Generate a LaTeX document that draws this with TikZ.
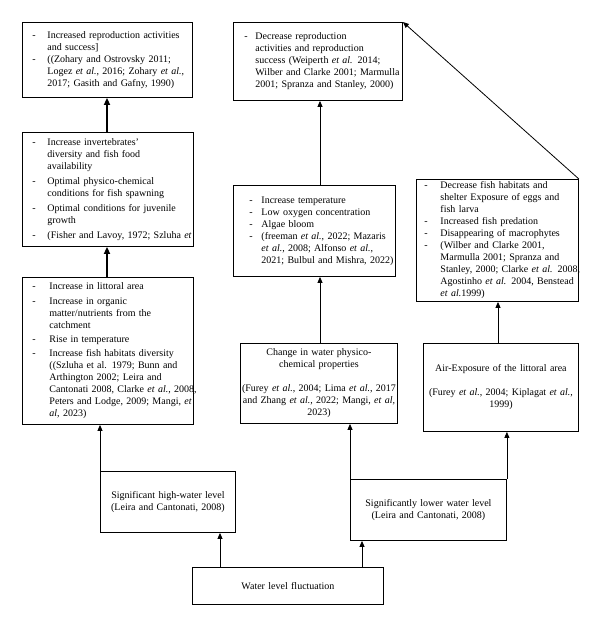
\documentclass[tikz,border=0pt]{standalone}
\usepackage{fontspec}
\setmainfont{Liberation Serif}
\usetikzlibrary{arrows.meta,calc}
\newcommand{\blist}[3]{\begin{tabular}{@{\hspace{#1}}p{#2}@{}l@{}}#3\end{tabular}}
\tikzset{
  box/.style={draw, line width=0.9pt, inner xsep=0pt, inner ysep=0pt, anchor=north west,
    align=left, font=\fontsize{10pt}{12pt}\selectfont},
  cbox/.style={box, align=center},
  arr/.style={-{Triangle[length=6pt,width=5pt]}, line width=0.8pt},
  tarr/.style={-{Triangle[length=7pt,width=6pt]}, line width=1.6pt}
}
\begin{document}
\begin{tikzpicture}[x=1pt,y=-1pt]
\useasboundingbox (0,0) rectangle (600,626);

% left column
\node[box, text width=170pt, minimum height=75pt] (a1) at (22,22)
  {\blist{10pt}{15pt}{- & Increased reproduction activities\\
   & and success]\\
   - & ((Zohary and Ostrovsky 2011;\\
   & Logez \textit{et al.}, 2016; Zohary \textit{et al.},\\
   & 2017; Gasith and Gafny, 1990)}};

\node[box, text width=171pt, minimum height=114pt] (a2) at (22,132)
  {\blist{10pt}{15pt}{- & Increase invertebrates’\\
   & diversity and fish food\\
   & availability\\[3pt]
   - & Optimal physico-chemical\\
   & conditions for fish spawning\\[3pt]
   - & Optimal conditions for juvenile\\
   & growth\\[3pt]
   - & (Fisher and Lavoy, 1972; Szluha \textit{et}}};

\node[box, text width=171pt, minimum height=147pt] (a3) at (22,277)
  {\blist{10pt}{17pt}{- & Increase in littoral area\\[3pt]
   - & Increase in organic\\
   & matter/nutrients from the\\
   & catchment\\[2pt]
   - & Rise in temperature\\[2pt]
   - & Increase fish habitats diversity\\
   & ((Szluha et al. 1979; Bunn and\\
   & Arthington 2002; Leira and\\
   & Cantonati 2008, Clarke \textit{et al.}, 2008,\\
   & Peters and Lodge, 2009; Mangi, \textit{et}\\
   & \textit{al}, 2023)}};

\node[cbox, text width=135pt, minimum height=61pt] (a4) at (100,471)
  {Significant high-water level\\(Leira and Cantonati, 2008)};

% middle column
\node[box, text width=169pt, minimum height=78pt] (b1) at (233,22)
  {\blist{11pt}{11pt}{- & Decrease reproduction\\
   & activities and reproduction\\
   & success (Weiperth \textit{et al.} 2014;\\
   & Wilber and Clarke 2001; Marmulla\\
   & 2001; Spranza and Stanley, 2000)}};

\node[box, text width=162pt, minimum height=91pt] (b2) at (233,185)
  {\blist{16pt}{12pt}{- & Increase temperature\\
   - & Low oxygen concentration\\
   - & Algae bloom\\
   - & (freeman \textit{et al.}, 2022; Mazaris\\
   & \textit{et al.}, 2008; Alfonso \textit{et al.},\\
   & 2021; Bulbul and Mishra, 2022)}};

\node[cbox, text width=157pt, minimum height=80pt] (b3) at (240,343)
  {Change in water physico-\\chemical properties\\[12pt]
   (Furey \textit{et al.}, 2004; Lima \textit{et al.}, 2017\\
   and Zhang \textit{et al.}, 2022; Mangi, \textit{et al,}\\2023)};

\node[cbox, text width=156pt, minimum height=61pt] (b4) at (350,479)
  {Significantly lower water level\\(Leira and Cantonati, 2008)};

% right column
\node[box, text width=162pt, minimum height=122pt] (c2) at (416,179)
  {\blist{8pt}{16pt}{- & Decrease fish habitats and\\
   & shelter Exposure of eggs and\\
   & fish larva\\
   - & Increased fish predation\\
   - & Disappearing of macrophytes\\
   - & (Wilber and Clarke 2001,\\
   & Marmulla 2001; Spranza and\\
   & Stanley, 2000; Clarke \textit{et al.} 2008,\\
   & Agostinho \textit{et al.} 2004, Benstead\\
   & \textit{et al.}1999)}};

\node[cbox, text width=155pt, minimum height=88pt] (c3) at (423,343)
  {Air-Exposure of the littoral area\\[12pt]
   (Furey \textit{et al.}, 2004; Kiplagat \textit{et al.},\\1999)};

% bottom
\node[cbox, text width=191pt, minimum height=37pt] (w) at (192,567)
  {Water level fluctuation};

% connector anchor points
\coordinate (p1) at ($(a1.south west)+(85,0)$);
\coordinate (p2) at ($(b2.south west)+(87,0)$);
\coordinate (p3) at ($(c2.south west)+(82,0)$);
\coordinate (q1) at ($(w.north west)+(28,0)$);
\coordinate (q2) at ($(w.north west)+(170,0)$);

% connectors
\draw[tarr] (p1 |- a2.north) -- (p1);
\draw[tarr] (p1 |- a3.north) -- (p1 |- a2.south);
\draw[arr] (a4.north west) -- (a4.north west |- a3.south);
\draw[arr] (q1) -- (q1 |- a4.south);
\draw[arr] (q2) -- (q2 |- b4.south);
\draw[arr] (b4.north west) -- (b4.north west |- b3.south);
\draw[arr] (b4.north east) -- (b4.north east |- c3.south);
\draw[arr] (p2 |- b3.north) -- (p2);
\draw[arr] (p2 |- b2.north) -- (p2 |- b1.south);
\draw[arr] (p3 |- c3.north) -- (p3);
\draw[arr] (c2.north east) -- (b1.north east);
\end{tikzpicture}
\end{document}
